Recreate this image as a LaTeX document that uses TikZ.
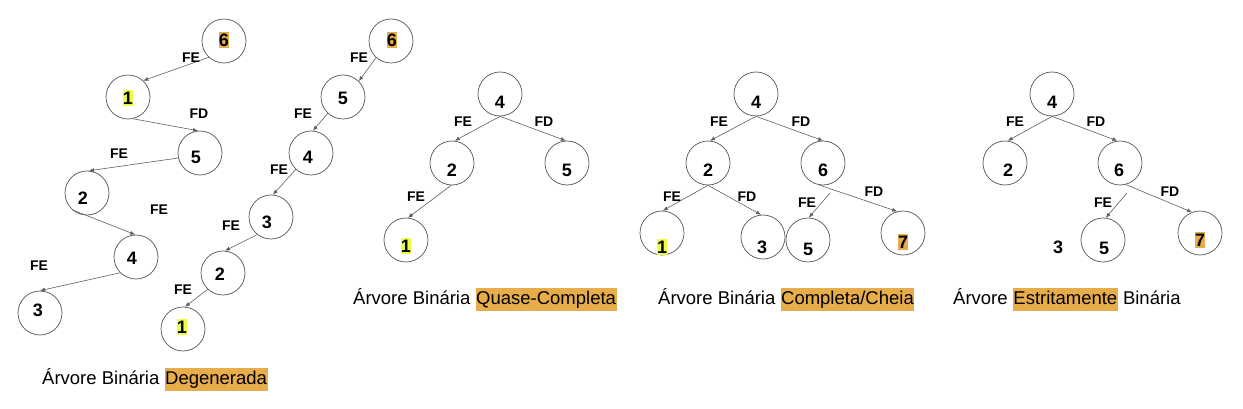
\documentclass[tikz,border=0pt]{standalone}
\usepackage{fontspec}
\setmainfont{Liberation Sans}
\usetikzlibrary{arrows.meta}
\definecolor{hlorange}{HTML}{E8AD4B}
\definecolor{hlyellow}{HTML}{EEFF41}
\definecolor{edgegray}{HTML}{606060}
\definecolor{circgray}{HTML}{555555}
\newcommand{\capbox}[1]{{\setlength{\fboxsep}{0.6pt}\colorbox{hlorange}{\strut #1}}}
\tikzset{
  vtx/.style={circle, draw=circgray, line width=0.7pt, minimum size=44pt, inner sep=0pt},
  num/.style={font=\fontsize{18}{20}\selectfont\bfseries, inner sep=0pt},
  numhl/.style={num, fill=hlyellow, inner ysep=1.5pt, inner xsep=0.3pt},
  numor/.style={num, fill=hlorange, inner ysep=2pt, inner xsep=0.3pt},
  elab/.style={font=\fontsize{14}{16}\selectfont\bfseries, inner sep=0pt},
  captxt/.style={font=\fontsize{18.5}{22}\selectfont, inner sep=0pt, anchor=base west},
  edg/.style={draw=edgegray, line width=0.6pt, -{Latex[length=5pt,width=4pt]}}
}
\begin{document}
\begin{tikzpicture}[x=1pt,y=-1pt]
\useasboundingbox[fill=white] (0,0) rectangle (1243,409);

% ---------- Tree 1: degenerate ----------
\node[vtx] (a6) at (224,41) {};
\node[vtx] (a1) at (128,97) {};
\node[vtx] (a5) at (200,153) {};
\node[vtx] (a2) at (87,193) {};
\node[vtx] (a4) at (136,257) {};
\node[vtx] (a3) at (40,313) {};
\node[numor] (ta6) at (224,40) {6};
\node[numhl] (ta1) at (128,98) {1};
\node[num] (ta5) at (196,157) {5};
\node[num] (ta2) at (83,198) {2};
\node[num] (ta4) at (132,258) {4};
\node[num] (ta3) at (38,310) {3};
\draw[edg] (a6.227) -- (a1.47);
\draw[edg] (a1.-77) -- (a5.95);
\draw[edg] (a5.193) -- (a2.85);
\draw[edg] (a2.229) -- (a4.92);
\draw[edg] (a4.225) -- (a3.90);
\node[elab] (la1) at (191,58) {FE};
\node[elab] (la2) at (199,114) {FD};
\node[elab] (la3) at (119,154) {FE};
\node[elab] (la4) at (159,210) {FE};
\node[elab] (la5) at (39,266) {FE};
\node[captxt] (capa) at (42,384) {Árvore Binária \capbox{Degenerada}};

% ---------- Tree 2: degenerate ----------
\node[vtx] (b6) at (391,41) {};
\node[vtx] (b5) at (343,97) {};
\node[vtx] (b4) at (311,153) {};
\node[vtx] (b3) at (271,217) {};
\node[vtx] (b2) at (223,273) {};
\node[vtx] (b1) at (183,329) {};
\node[numor] (tb6) at (392,40) {6};
\node[num] (tb5) at (343,98) {5};
\node[num] (tb4) at (308,157) {4};
\node[num] (tb3) at (267,222) {3};
\node[num] (tb2) at (220,274) {2};
\node[numhl] (tb1) at (182,327) {1};
\draw[edg] (b6.228) -- (b5.45);
\draw[edg] (b5.227) -- (b4.85);
\draw[edg] (b4.227) -- (b3.85);
\draw[edg] (b3.232) -- (b2.85);
\draw[edg] (b2.227) -- (b1.85);
\node[elab] (lb1) at (359,58) {FE};
\node[elab] (lb2) at (303,114) {FE};
\node[elab] (lb3) at (279,170) {FE};
\node[elab] (lb4) at (231,226) {FE};
\node[elab] (lb5) at (183,290) {FE};

% ---------- Tree 3: quase-completa ----------
\node[vtx] (c4) at (500,94) {};
\node[vtx] (c2) at (452,163) {};
\node[vtx] (c5) at (567,163) {};
\node[vtx] (c1) at (406,240) {};
\node[num] (tc4) at (500,102) {4};
\node[num] (tc2) at (452,170) {2};
\node[num] (tc5) at (567,170) {5};
\node[numhl] (tc1) at (406,246) {1};
\draw[edg] (c4.270) -- (c2.83);
\draw[edg] (c4.270) -- (c5.93);
\draw[edg] (c2.268) -- (c1.85);
\node[elab] (lc1) at (463,122) {FE};
\node[elab] (lc2) at (544,122) {FD};
\node[elab] (lc3) at (416,197) {FE};
\node[captxt] (capc) at (353,304) {Árvore Binária \capbox{Quase-Completa}};

% ---------- Tree 4: completa/cheia ----------
\node[vtx] (d4) at (756,94) {};
\node[vtx] (d2) at (708,163) {};
\node[vtx] (d6) at (823,163) {};
\node[vtx] (d1) at (662,233) {};
\node[vtx] (d3) at (763,237) {};
\node[vtx] (d5) at (808,240) {};
\node[vtx] (d7) at (903,233) {};
\node[num] (td4) at (756,102) {4};
\node[num] (td2) at (708,170) {2};
\node[num] (td6) at (823,170) {6};
\node[numhl] (td1) at (662,247) {1};
\node[num] (td3) at (762,247) {3};
\node[num] (td5) at (808,249) {5};
\node[numor] (td7) at (903,242) {7};
\coordinate (dg) at (830,193);
\draw[edg] (d4.270) -- (d2.85);
\draw[edg] (d4.270) -- (d6.90);
\draw[edg] (d2.270) -- (d1.88);
\draw[edg] (d2.270) -- (d3.95);
\draw[edg] (dg) -- (d5.88);
\draw[edg] (d6.260) -- (d7.105);
\node[elab] (ld1) at (719,122) {FE};
\node[elab] (ld2) at (801,122) {FD};
\node[elab] (ld3) at (672,197) {FE};
\node[elab] (ld4) at (747,197) {FD};
\node[elab] (ld5) at (807,203) {FE};
\node[elab] (ld6) at (874,192) {FD};
\node[captxt] (capd) at (658,304) {Árvore Binária \capbox{Completa/Cheia}};

% ---------- Tree 5: estritamente binária ----------
\node[vtx] (e4) at (1052,94) {};
\node[vtx] (e2) at (1005,163) {};
\node[vtx] (e6) at (1120,163) {};
\node[vtx] (e5) at (1103,240) {};
\node[vtx] (e7) at (1200,233) {};
\node[num] (te4) at (1052,102) {4};
\node[num] (te2) at (1008,170) {2};
\node[num] (te6) at (1119,170) {6};
\node[num] (te5) at (1104,248) {5};
\node[numor] (te7) at (1200,240) {7};
\node[num] (te3) at (1058,247) {3};
\coordinate (eg) at (1127,193);
\draw[edg] (e4.270) -- (e2.83);
\draw[edg] (e4.270) -- (e6.97);
\draw[edg] (eg) -- (e5.83);
\draw[edg] (e6.285) -- (e7.111);
\node[elab] (le1) at (1015,122) {FE};
\node[elab] (le2) at (1096,122) {FD};
\node[elab] (le3) at (1103,203) {FE};
\node[elab] (le4) at (1170,192) {FD};
\node[captxt] (cape) at (953,304) {Árvore \capbox{Estritamente} Binária};
\end{tikzpicture}
\end{document}
